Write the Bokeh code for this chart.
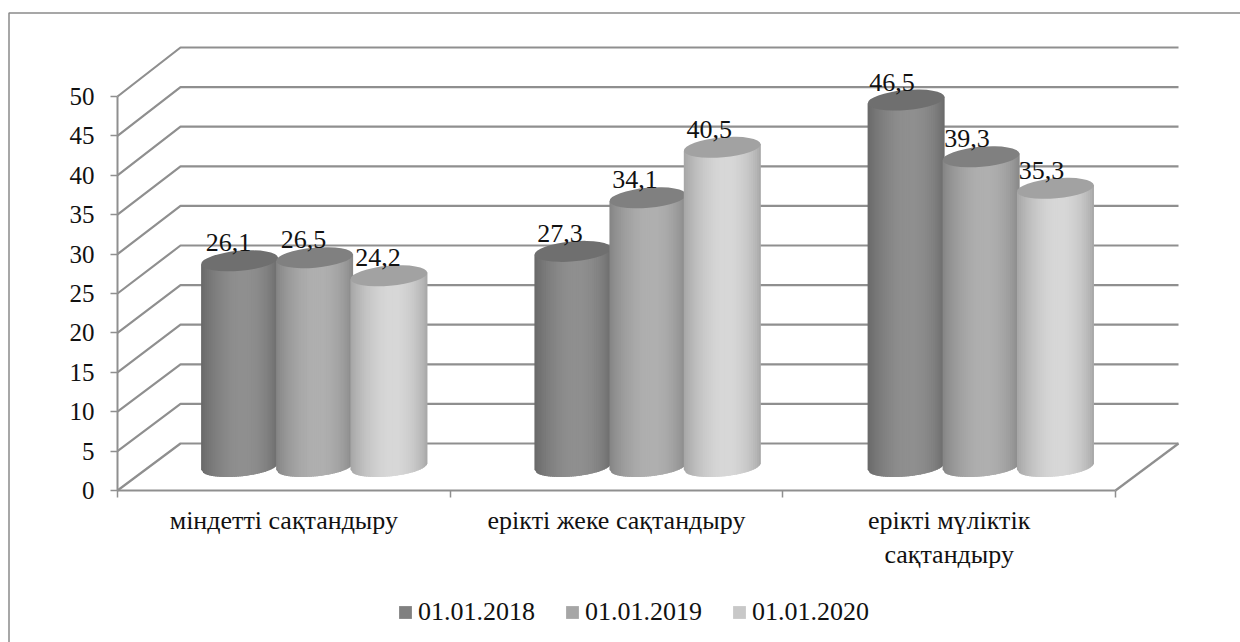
import math
from bokeh.core.properties import value
from bokeh.embed import file_html
from bokeh.models import (BoxAnnotation, ColumnDataSource, FixedTicker, Legend, LegendItem,
                          LinearAxis, Range1d)
from bokeh.plotting import figure
from bokeh.resources import INLINE

categories = ["міндетті сақтандыру", "ерікті жеке сақтандыру", "ерікті мүліктік\nсақтандыру"]
series_names = ["01.01.2018", "01.01.2019", "01.01.2020"]
values_2018 = [26.1, 27.3, 46.5]
values_2019 = [26.5, 34.1, 39.3]
values_2020 = [24.2, 40.5, 35.3]
labels_2018 = ["26,1", "27,3", "46,5"]
labels_2019 = ["26,5", "34,1", "39,3"]
labels_2020 = ["24,2", "40,5", "35,3"]
y_ticks = [0, 5, 10, 15, 20, 25, 30, 35, 40, 45, 50]

FONT = "Liberation Serif"
W, H = 1240, 642
LEFT, BOTTOM = 117, 152
PX = 332.67   # px per category
PY = 7.88     # px per value unit
LINE = "#8f8f8f"

p = figure(width=W, height=H, output_backend="svg", toolbar_location=None,
           x_range=Range1d(-LEFT / PX, (W - LEFT) / PX),
           y_range=Range1d(-BOTTOM / PY, (H - BOTTOM) / PY),
           x_axis_type=None, y_axis_type=None,
           min_border_left=0, min_border_right=0, min_border_top=0, min_border_bottom=0)
p.outline_line_color = None
p.grid.visible = False
p.background_fill_color = "white"

# outer chart frame: only left and top edges reach inside the picture
p.add_layout(BoxAnnotation(left=8.5, top=12.5, right=W + 20, bottom=H + 20,
                           left_units="canvas", right_units="canvas",
                           top_units="canvas", bottom_units="canvas",
                           fill_alpha=0, line_color="#8a8a8a", line_alpha=1, line_width=1.5,
                           level="underlay"))

# wall grid
DX = 63 / PX
def back_y(v):
    return v * (396 / 394) + 47 / PY

gx, gy = [], []
for v in y_ticks:
    gx.append([0, DX, 3 + DX])
    gy.append([v, back_y(v), back_y(v)])
gx.append([3, 3 + DX])
gy.append([0, back_y(0)])
p.multi_line(gx, gy, line_color=LINE, line_width=2.2)

# cylinders
BASE = 24 / PY
A, B = 38.5, 10.0
TILT = math.radians(5)
CENTERS = [0.5925, 1.5945, 2.596]
OFFSETS = [-0.2255, 0, 0.2235]
LABEL_DX = [-11, -13, -14]
EDGE = [(0x68, 0x90), (0x84, 0xb0), (0xa4, 0xd8)]
TOP = ["#6f6f6f", "#808080", "#a2a2a2"]
SWATCH = ["#808080", "#a6a6a6", "#c8c8c8"]
SERIES = [values_2018, values_2019, values_2020]
LABELS = [labels_2018, labels_2019, labels_2020]

N = 40
for s, vals in enumerate(SERIES):
    lo, hi = EDGE[s]
    xs, ys, cols = [], [], []
    ex, ey = [], []
    for g, val in enumerate(vals):
        cx = CENTERS[g] + OFFSETS[s]
        ax = A / PX
        for i in range(N):
            t0 = -1 + 2 * i / N
            t1 = -1 + 2 * (i + 1) / N
            t2 = min(1, t1 + 1.5 / N)
            def low(t):
                return BASE - (B * math.sqrt(max(0, 1 - t * t)) - A * math.tan(TILT) * t) / PY
            def up(t):
                return BASE + val + (A * math.tan(TILT) * t) / PY
            xs.append([cx + ax * t0, cx + ax * t2, cx + ax * t2, cx + ax * t0])
            ys.append([up(t0), up(t2), low(t2), low(t0)])
            tm = (t0 + t1) / 2
            u = (tm + 1) / 2
            shade = math.sin(math.pi * u ** 1.15) ** 0.7
            c = int(lo + (hi - lo) * shade)
            cols.append(f"#{c:02x}{c:02x}{c:02x}")
        ex.append(cx)
        ey.append(BASE + val)
    p.patches(xs, ys, fill_color=cols, line_color=None)
    p.ellipse(ex, ey, width=2 * A / PX, height=2 * B / PY, angle=TILT,
              fill_color=TOP[s], line_color=None)

# data labels (on top of everything)
for s, vals in enumerate(SERIES):
    src = ColumnDataSource(dict(
        x=[CENTERS[g] + OFFSETS[s] for g in range(3)],
        y=[BASE + v for v in vals],
        t=LABELS[s],
        dx=LABEL_DX))
    p.text("x", "y", text="t", source=src, x_offset="dx", y_offset=-18, text_align="center",
           text_baseline="alphabetic", text_font=value(FONT), text_font_size=value("26px"),
           text_color="#111111")

# real axes pinned at the front edge of the floor and wall
yax = LinearAxis(ticker=FixedTicker(ticks=y_ticks), bounds=(0, 50), fixed_location=0,
                 axis_line_color=LINE, axis_line_width=2,
                 major_tick_line_color=LINE, major_tick_line_width=1.5, major_tick_out=7,
                 major_tick_in=0, minor_tick_out=0, minor_tick_in=0,
                 major_label_text_font=FONT, major_label_text_font_size="25px",
                 major_label_text_color="#111111", major_label_standoff=16)
p.add_layout(yax, "left")

xax = LinearAxis(ticker=FixedTicker(ticks=[0.5, 1.5, 2.5], minor_ticks=[0, 1, 2, 3]),
                 bounds=(0, 3), fixed_location=0, axis_line_color=LINE, axis_line_width=2,
                 major_tick_out=0, major_tick_in=0,
                 minor_tick_line_color=LINE, minor_tick_line_width=1.5,
                 minor_tick_out=7, minor_tick_in=0,
                 major_label_overrides={0.5: categories[0], 1.5: categories[1], 2.5: categories[2]},
                 major_label_text_font=FONT, major_label_text_font_size="26px",
                 major_label_text_color="#111111", major_label_standoff=8)
p.add_layout(xax, "below")

# legend
items = []
for s, name in enumerate(series_names):
    r = p.quad(left=[float("nan")], right=[float("nan")], top=[float("nan")], bottom=[float("nan")],
               fill_color=SWATCH[s], line_color=None)
    items.append(LegendItem(label=name, renderers=[r]))
leg = Legend(items=items, orientation="horizontal", location=(397, 15),
             glyph_width=16, glyph_height=16, label_standoff=5, spacing=29,
             padding=0, margin=0, border_line_color=None, background_fill_alpha=0,
             label_text_font=FONT, label_text_font_size="26px", label_text_color="#111111",
             label_height=20)
p.add_layout(leg)

open("out.html", "w").write(file_html(p, INLINE))
